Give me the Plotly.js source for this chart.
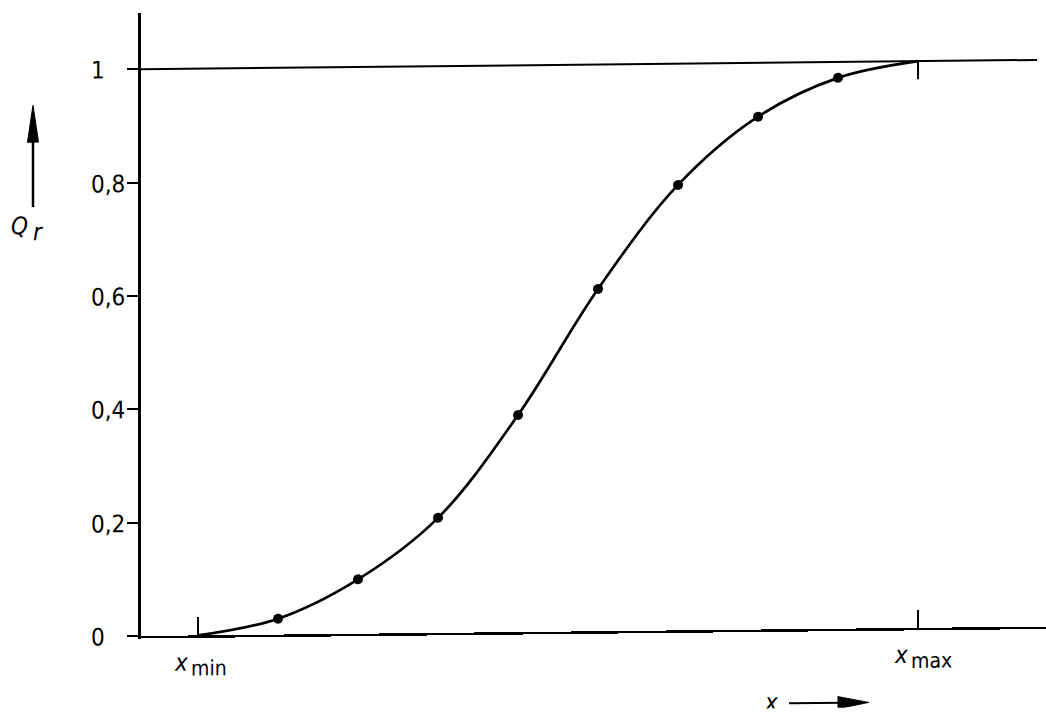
<!DOCTYPE html>
<html>
<head>
<meta charset="utf-8">
<script src="https://cdn.plot.ly/plotly-3.0.1.min.js"></script>
<style>
html,body{margin:0;padding:0;background:#ffffff;overflow:hidden}
#chart{width:1046px;height:715px;transform:skewY(-0.6deg);transform-origin:141px 636px}
</style>
</head>
<body>
<div id="chart"></div>
<script>
// ---- data ----
const pointX = [1, 2, 3, 4, 5, 6, 7, 8];
const pointQ = [0.028, 0.096, 0.203, 0.383, 0.604, 0.786, 0.905, 0.972];
const curveX = [0, 1, 2, 3, 4, 5, 6, 7, 8, 9];
const curveQ = [0, 0.028, 0.096, 0.203, 0.383, 0.604, 0.786, 0.905, 0.972, 1];
const xTickVals = [0, 9];
const xTickMain = ['x', 'x'];
const xTickSub = ['min', 'max'];
const yTickVals = [0, 0.2, 0.4, 0.6, 0.8, 1];
const yTickText = ['0', '0,2', '0,4', '0,6', '0,8', '1'];
const topLevel = 1;

// ---- geometry helpers for decorations (plot area 141..1046 x 13..636 px) ----
const L = 141, T = 13, W = 905, H = 623;
const px = p => (p - L) / W;
const py = p => (636 - p) / H;

const FONT = 'DejaVu Sans Condensed, DejaVu Sans, sans-serif';
const f = (s) => ({family: FONT, size: s, color: '#000'});

const traces = [
  {
    x: curveX, y: curveQ, type: 'scatter', mode: 'lines',
    line: {color: '#000', width: 2.7, shape: 'spline', smoothing: 1},
    hoverinfo: 'skip', showlegend: false
  },
  {
    x: pointX, y: pointQ, type: 'scatter', mode: 'markers',
    marker: {color: '#000', size: 10}, showlegend: false
  }
];

const annotations = yTickVals.map((v, i) => ({
  x: px(89), xref: 'paper', y: v, yref: 'y',
  text: yTickText[i], showarrow: false, xanchor: 'left', yanchor: 'middle',
  yshift: -1, font: f(24)
}));
// x-axis tick labels: italic x with lowered index
xTickVals.forEach((v, i) => {
  annotations.push({
    x: v, xref: 'x', y: py(663), yref: 'paper',
    text: '<i>' + xTickMain[i] + '</i>', showarrow: false,
    xanchor: 'center', yanchor: 'middle', xshift: -17, font: f(24)
  });
  annotations.push({
    x: v, xref: 'x', y: py(669), yref: 'paper',
    text: xTickSub[i], showarrow: false,
    xanchor: 'left', yanchor: 'middle', xshift: -9, font: f(21)
  });
});
// y-axis label Q r
annotations.push({
  x: px(20), xref: 'paper', y: py(225), yref: 'paper',
  text: '<i>Q</i>', showarrow: false, xanchor: 'center', yanchor: 'middle', font: f(24)
});
annotations.push({
  x: px(38), xref: 'paper', y: py(231), yref: 'paper',
  text: '<i>r</i>', showarrow: false, xanchor: 'center', yanchor: 'middle', font: f(24)
});
// x-axis label
annotations.push({
  x: px(771), xref: 'paper', y: py(709), yref: 'paper',
  text: '<i>x</i>', showarrow: false, xanchor: 'center', yanchor: 'middle', font: f(24)
});

const shapes = [
  // reference line Q = 1
  {type: 'line', xref: 'paper', yref: 'y', x0: 0, x1: px(1037), y0: topLevel, y1: topLevel,
   line: {color: '#000', width: 2}},
  // tick at x_max hanging from the Q = 1 line
  {type: 'line', xref: 'x', yref: 'y', ysizemode: 'pixel', yanchor: topLevel,
   x0: xTickVals[1], x1: xTickVals[1], y0: 0, y1: -18,
   line: {color: '#000', width: 2}},
  // vertical arrow beside Q_r
  {type: 'line', xref: 'paper', yref: 'paper', x0: px(33), x1: px(33), y0: py(206), y1: py(135),
   line: {color: '#000', width: 2.5}},
  {type: 'path', xref: 'paper', yref: 'paper',
   path: `M${px(33)},${py(104)} L${px(27.5)},${py(141)} L${px(38.5)},${py(141)} Z`,
   fillcolor: '#000', line: {color: '#000', width: 1}},
  // horizontal arrow after x
  {type: 'line', xref: 'paper', yref: 'paper', x0: px(789), x1: px(845), y0: py(710), y1: py(710),
   line: {color: '#000', width: 2}},
  {type: 'path', xref: 'paper', yref: 'paper',
   path: `M${px(869)},${py(710)} L${px(838)},${py(704)} L${px(838)},${py(716)} Z`,
   fillcolor: '#000', line: {color: '#000', width: 1}}
];

const layout = {
  width: 1046, height: 715,
  margin: {l: L, r: 0, t: T, b: 715 - T - H, pad: 0},
  paper_bgcolor: '#fff', plot_bgcolor: '#fff',
  showlegend: false,
  xaxis: {
    range: [-0.7125, 10.5995], showgrid: false, zeroline: false,
    showline: true, linecolor: '#000', linewidth: 2.5,
    ticks: 'inside', ticklen: 18, tickwidth: 2, tickcolor: '#000',
    tickmode: 'array', tickvals: xTickVals, showticklabels: false
  },
  yaxis: {
    range: [0, 623 / 566.7], showgrid: false, zeroline: false,
    showline: true, linecolor: '#000', linewidth: 3,
    ticks: 'outside', ticklen: 11, tickwidth: 2, tickcolor: '#000',
    tickmode: 'array', tickvals: yTickVals, showticklabels: false
  },
  annotations: annotations,
  shapes: shapes
};

Plotly.newPlot('chart', traces, layout, {displayModeBar: false, staticPlot: true});
</script>
</body>
</html>
